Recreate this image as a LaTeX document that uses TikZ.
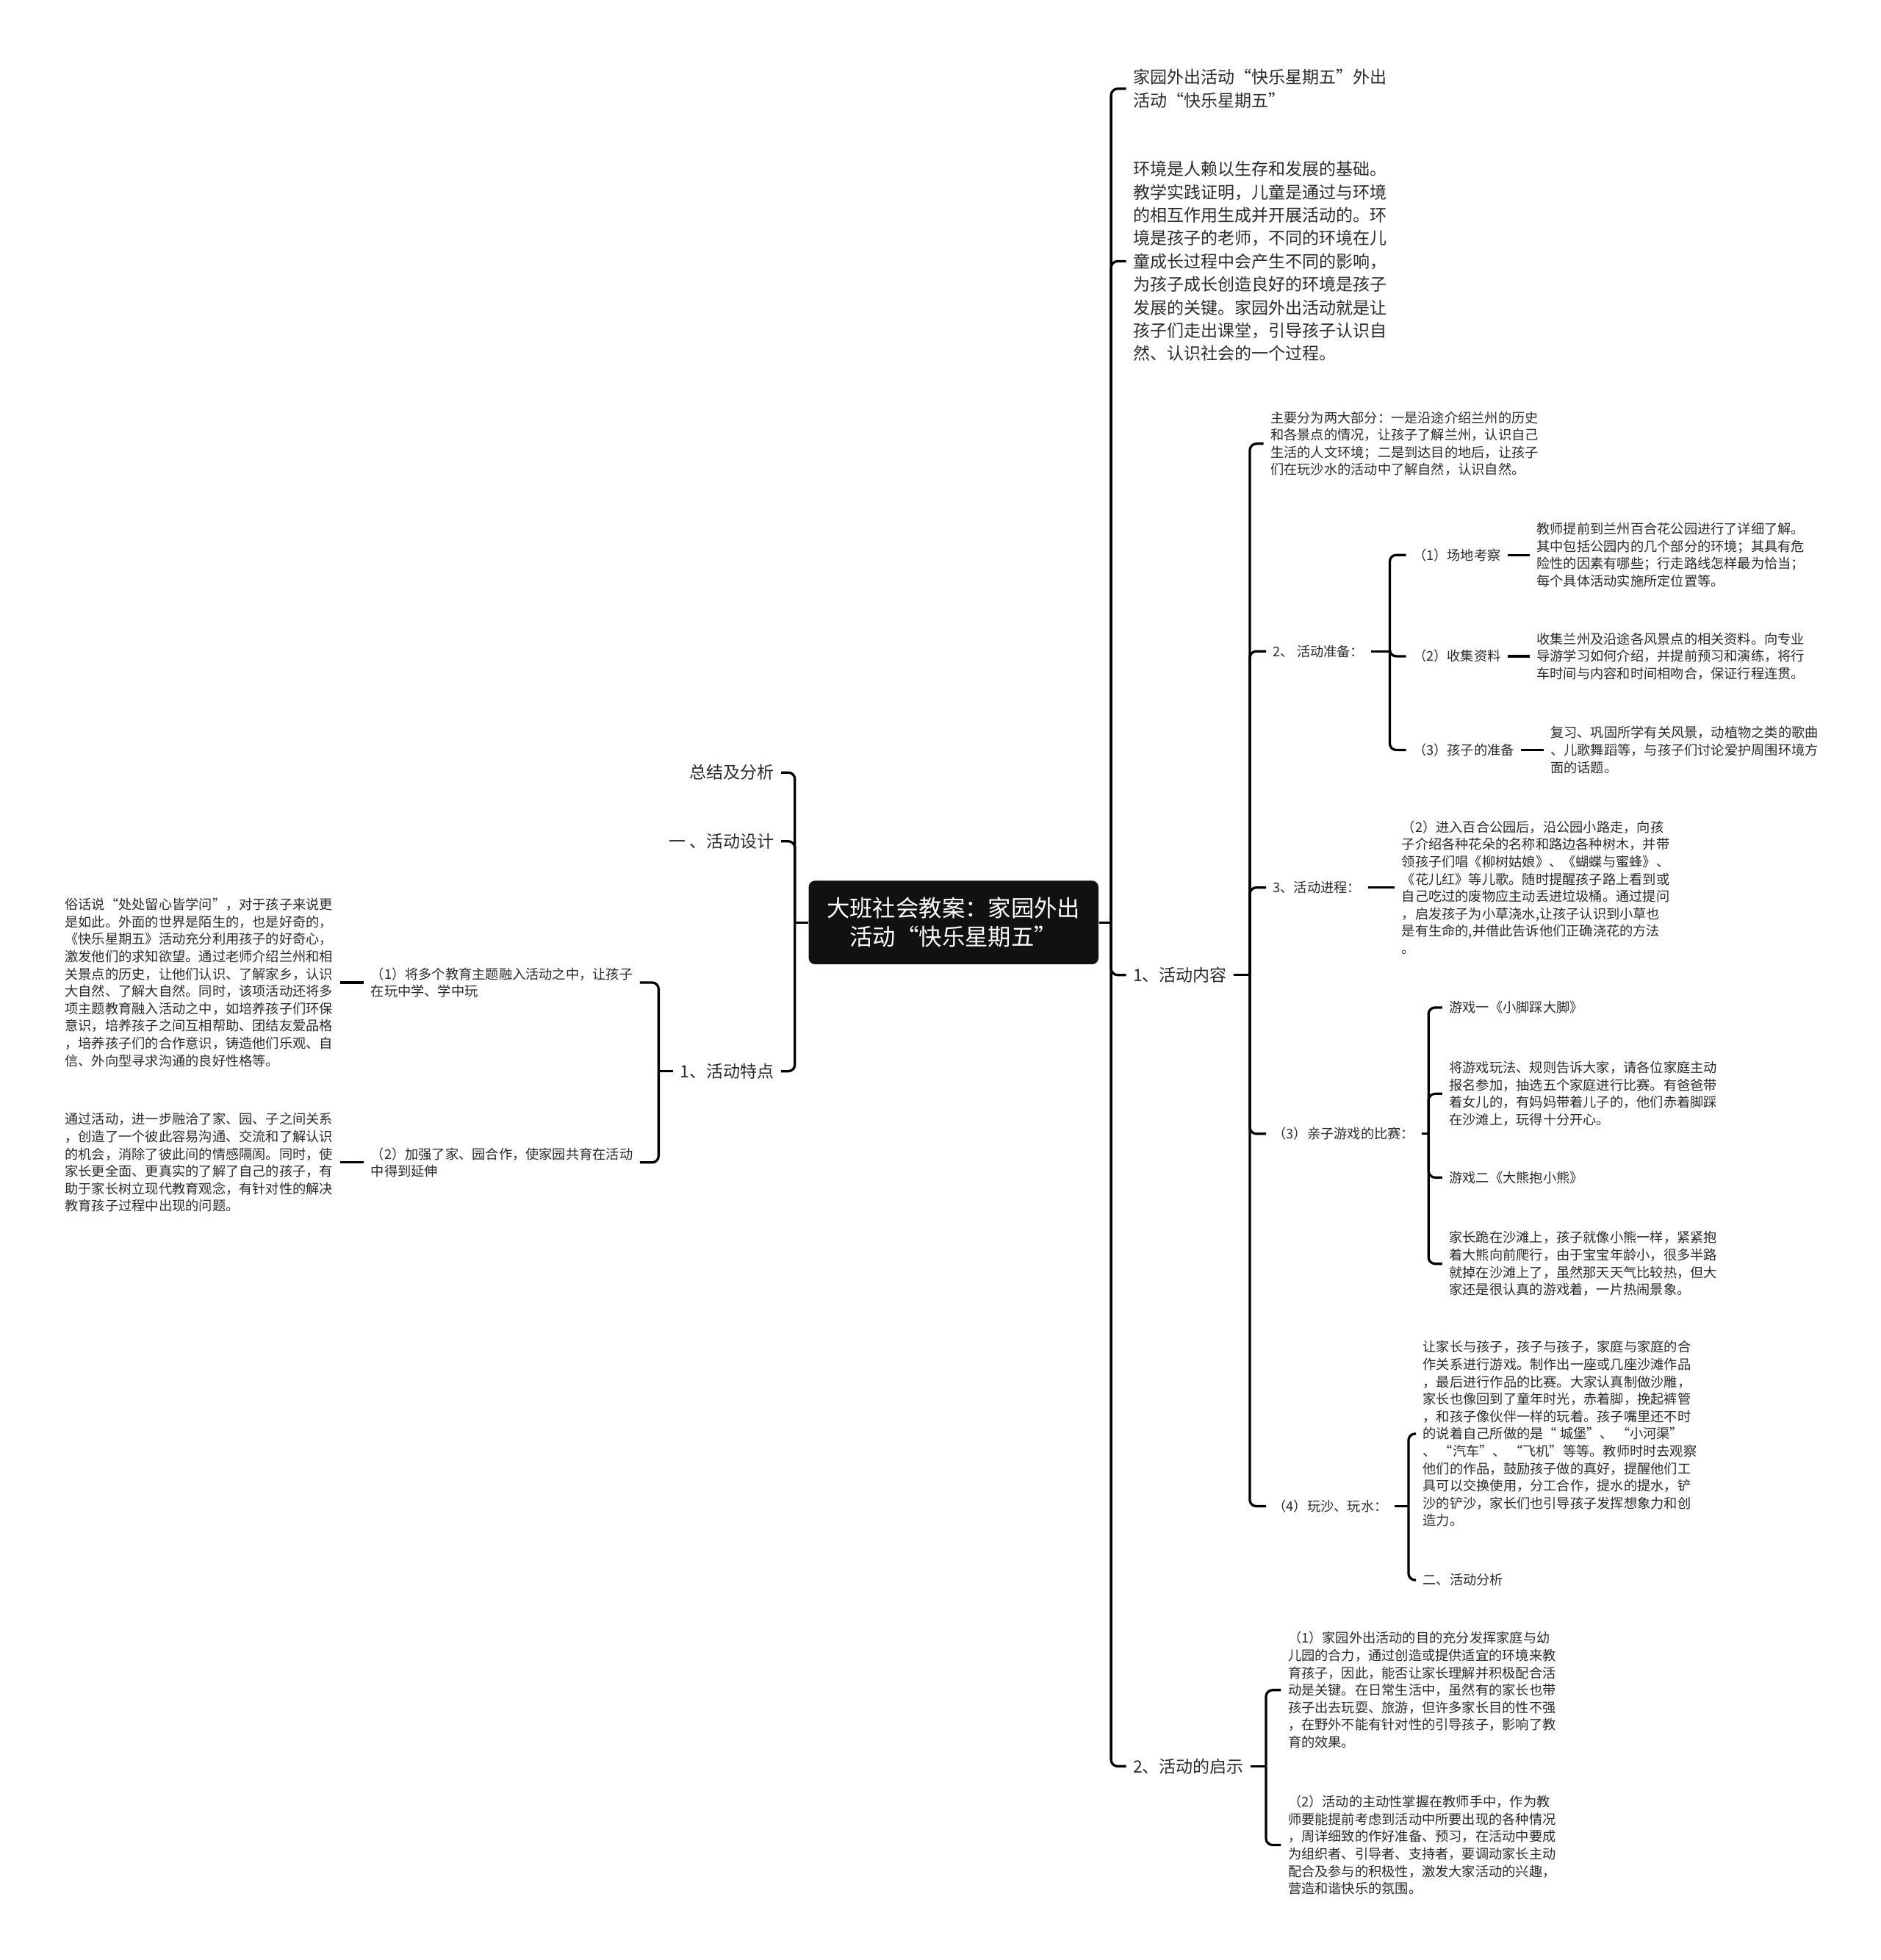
\documentclass[tikz,border=0pt]{standalone}
\usepackage{fontspec}
\setmainfont{Noto Sans CJK SC}
\usepackage{tikz}
\definecolor{MapInk}{HTML}{2B2B2B}
\definecolor{MapRoot}{HTML}{111111}
\newcommand{\smalltxt}{\fontsize{6.1}{7.9}\selectfont}
\newcommand{\midtxt}{\fontsize{7.7}{10.5}\selectfont}
\newcommand{\roottxt}{\fontsize{10.5}{13.1}\selectfont}

\begin{document}
\begin{tikzpicture}[
  x=0.02cm, y=-0.02cm,
  topic/.style={anchor=west,align=left,inner xsep=3pt,inner ysep=1pt,font=\midtxt,text=MapInk},
  leaf/.style={topic,font=\smalltxt},
  topicL/.style={topic,anchor=east},
  leafL/.style={leaf,anchor=east},
  rootbox/.style={fill=MapRoot,text=white,rounded corners=3pt,align=center,font=\roottxt,
    minimum width=4.64cm,minimum height=1.34cm},
  link/.style={draw=black,line width=1.1pt,rounded corners=3pt}
]
  \fill[white] (0,0) rectangle (1505,1568);
  \useasboundingbox (0,0) rectangle (1505,1568);

  % root
  \node[rootbox] (root) at (763,738) {大班社会教案：家园外出\\活动“快乐星期五”};

  % right side
  \node[topic] (intro) at (901,71) {家园外出活动“快乐星期五”外出\\活动“快乐星期五”};
  \node[topic] (env) at (901,209) {环境是人赖以生存和发展的基础。\\教学实践证明，儿童是通过与环境\\的相互作用生成并开展活动的。环\\境是孩子的老师，不同的环境在儿\\童成长过程中会产生不同的影响，\\为孩子成长创造良好的环境是孩子\\发展的关键。家园外出活动就是让\\孩子们走出课堂，引导孩子认识自\\然、认识社会的一个过程。};
  \node[topic] (content) at (901,780) {1、活动内容};
  \node[topic] (insight) at (901,1413) {2、活动的启示};
  \coordinate (jR) at (889,738);
  \draw[link] (root.east) -- (jR);
  \foreach \n in {intro,env,content,insight}
    \draw[link] (jR) |- (\n.west);

  % 1、活动内容
  \node[leaf] (parts) at (1011,355) {主要分为两大部分：一是沿途介绍兰州的历史\\和各景点的情况，让孩子了解兰州，认识自己\\生活的人文环境；二是到达目的地后，让孩子\\们在玩沙水的活动中了解自然，认识自然。};
  \node[leaf] (prep) at (1013,521) {2、 活动准备：};
  \node[leaf] (prog) at (1013,710) {3、活动进程：};
  \node[leaf] (game) at (1013,907) {（3）亲子游戏的比赛：};
  \node[leaf] (sand) at (1013,1205) {（4）玩沙、玩水：};
  \coordinate (jContent) at (1000,780);
  \draw[link] (content.east) -- (jContent);
  \foreach \n in {parts,prep,prog,game,sand}
    \draw[link] (jContent) |- (\n.west);

  % 活动准备
  \node[leaf] (site) at (1125,444) {（1）场地考察};
  \node[leaf] (data) at (1125,525) {（2）收集资料};
  \node[leaf] (kids) at (1125,600) {（3）孩子的准备};
  \node[leaf] (siteText) at (1224,444) {教师提前到兰州百合花公园进行了详细了解。\\其中包括公园内的几个部分的环境；其具有危\\险性的因素有哪些；行走路线怎样最为恰当；\\每个具体活动实施所定位置等。};
  \node[leaf] (dataText) at (1224,525) {收集兰州及沿途各风景点的相关资料。向专业\\导游学习如何介绍，并提前预习和演练，将行\\车时间与内容和时间相吻合，保证行程连贯。};
  \node[leaf] (kidsText) at (1235,600) {复习、巩固所学有关风景，动植物之类的歌曲\\、儿歌舞蹈等，与孩子们讨论爱护周围环境方\\面的话题。};
  \coordinate (jPrep) at (1112,521);
  \draw[link] (prep.east) -- (jPrep);
  \foreach \n in {site,data,kids}
    \draw[link] (jPrep) |- (\n.west);
  \draw[link] (site.east) -- (siteText.west);
  \draw[link] (data.east) -- (dataText.west);
  \draw[link] (kids.east) -- (kidsText.west);

  % 活动进程
  \node[leaf] (progText) at (1116,710) {（2）进入百合公园后，沿公园小路走，向孩\\子介绍各种花朵的名称和路边各种树木，并带\\领孩子们唱《柳树姑娘》、《蝴蝶与蜜蜂》、\\《花儿红》等儿歌。随时提醒孩子路上看到或\\自己吃过的废物应主动丢进垃圾桶。通过提问\\，启发孩子为小草浇水,让孩子认识到小草也\\是有生命的,并借此告诉他们正确浇花的方法\\。};
  \draw[link] (prog.east) -- (progText.west);

  % 亲子游戏
  \node[leaf] (gameA) at (1154,806) {游戏一《小脚踩大脚》};
  \node[leaf] (gameAText) at (1154,875) {将游戏玩法、规则告诉大家，请各位家庭主动\\报名参加，抽选五个家庭进行比赛。有爸爸带\\着女儿的，有妈妈带着儿子的，他们赤着脚踩\\在沙滩上，玩得十分开心。};
  \node[leaf] (gameB) at (1154,942) {游戏二《大熊抱小熊》};
  \node[leaf] (gameBText) at (1154,1011) {家长跪在沙滩上，孩子就像小熊一样，紧紧抱\\着大熊向前爬行，由于宝宝年龄小，很多半路\\就掉在沙滩上了，虽然那天天气比较热，但大\\家还是很认真的游戏着，一片热闹景象。};
  \coordinate (jGame) at (1143,907);
  \draw[link] (game.east) -- (jGame);
  \foreach \n in {gameA,gameAText,gameB,gameBText}
    \draw[link] (jGame) |- (\n.west);

  % 玩沙、玩水
  \node[leaf] (sandText) at (1133,1147) {让家长与孩子，孩子与孩子，家庭与家庭的合\\作关系进行游戏。制作出一座或几座沙滩作品\\，最后进行作品的比赛。大家认真制做沙雕，\\家长也像回到了童年时光，赤着脚，挽起裤管\\，和孩子像伙伴一样的玩着。孩子嘴里还不时\\的说着自己所做的是“ 城堡”、 “小河渠”\\、 “汽车”、 “飞机”等等。教师时时去观察\\他们的作品，鼓励孩子做的真好，提醒他们工\\具可以交换使用，分工合作，提水的提水，铲\\沙的铲沙，家长们也引导孩子发挥想象力和创\\造力。};
  \node[leaf] (analysis) at (1133,1264) {二、活动分析};
  \coordinate (jSand) at (1127,1205);
  \draw[link] (sand.east) -- (jSand);
  \foreach \n in {sandText,analysis}
    \draw[link] (jSand) |- (\n.west);

  % 活动的启示
  \node[leaf] (insA) at (1025,1352) {（1）家园外出活动的目的充分发挥家庭与幼\\儿园的合力，通过创造或提供适宜的环境来教\\育孩子，因此，能否让家长理解并积极配合活\\动是关键。在日常生活中，虽然有的家长也带\\孩子出去玩耍、旅游，但许多家长目的性不强\\，在野外不能有针对性的引导孩子，影响了教\\育的效果。};
  \node[leaf] (insB) at (1025,1476) {（2）活动的主动性掌握在教师手中，作为教\\师要能提前考虑到活动中所要出现的各种情况\\，周详细致的作好准备、预习，在活动中要成\\为组织者、引导者、支持者，要调动家长主动\\配合及参与的积极性，激发大家活动的兴趣，\\营造和谐快乐的氛围。};
  \coordinate (jInsight) at (1013,1413);
  \draw[link] (insight.east) -- (jInsight);
  \foreach \n in {insA,insB}
    \draw[link] (jInsight) |- (\n.west);

  % left side
  \node[topicL] (summary) at (625,618) {总结及分析};
  \node[topicL] (design) at (625,673) {一 、活动设计};
  \node[topicL] (feature) at (625,857) {1、活动特点};
  \coordinate (jL) at (636,738);
  \draw[link] (root.west) -- (jL);
  \foreach \n in {summary,design,feature}
    \draw[link] (jL) |- (\n.east);

  \node[leafL] (featA) at (512,786) {（1）将多个教育主题融入活动之中，让孩子\\在玩中学、学中玩};
  \node[leafL] (featB) at (512,930) {（2）加强了家、园合作，使家园共育在活动\\中得到延伸};
  \coordinate (jFeature) at (527,857);
  \draw[link] (feature.west) -- (jFeature);
  \foreach \n in {featA,featB}
    \draw[link] (jFeature) |- (\n.east);

  \node[leafL] (featAText) at (272,786) {俗话说“处处留心皆学问”，对于孩子来说更\\是如此。外面的世界是陌生的，也是好奇的，\\《快乐星期五》活动充分利用孩子的好奇心，\\激发他们的求知欲望。通过老师介绍兰州和相\\关景点的历史，让他们认识、了解家乡，认识\\大自然、了解大自然。同时，该项活动还将多\\项主题教育融入活动之中，如培养孩子们环保\\意识，培养孩子之间互相帮助、团结友爱品格\\，培养孩子们的合作意识，铸造他们乐观、自\\信、外向型寻求沟通的良好性格等。};
  \node[leafL] (featBText) at (272,930) {通过活动，进一步融洽了家、园、子之间关系\\，创造了一个彼此容易沟通、交流和了解认识\\的机会，消除了彼此间的情感隔阂。同时，使\\家长更全面、更真实的了解了自己的孩子，有\\助于家长树立现代教育观念，有针对性的解决\\教育孩子过程中出现的问题。};
  \draw[link] (featA.west) -- (featAText.east);
  \draw[link] (featB.west) -- (featBText.east);
\end{tikzpicture}
\end{document}
